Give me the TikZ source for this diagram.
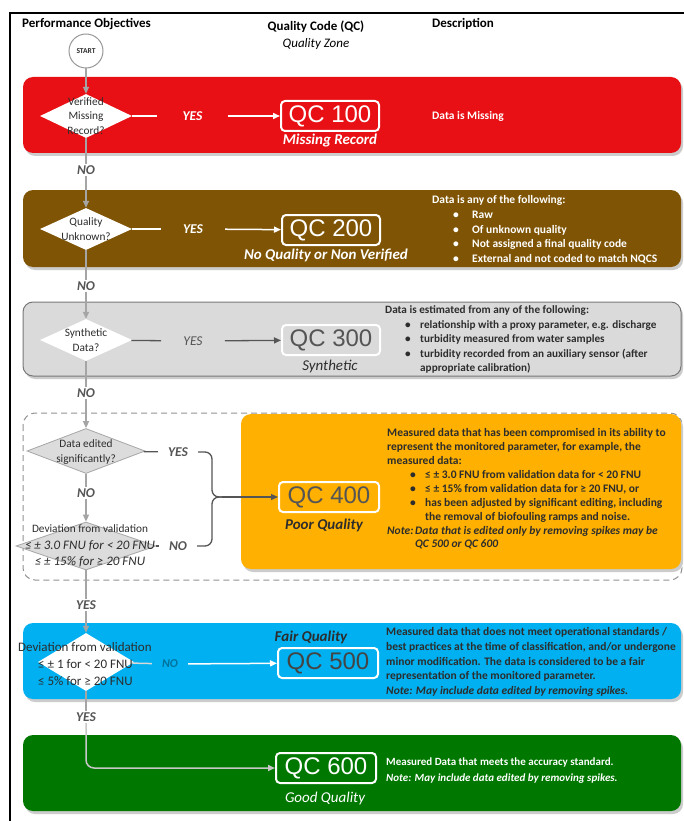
\documentclass[tikz,border=0pt]{standalone}
\usepackage{fontspec}
\setmainfont{Carlito}
\newfontfamily\qcfam{Liberation Sans}
\usetikzlibrary{shapes.geometric,arrows.meta}
\definecolor{cRed}{RGB}{232,16,20}
\definecolor{cBrown}{RGB}{127,84,4}
\definecolor{cGrayBand}{RGB}{218,218,218}
\definecolor{cGrayEdge}{RGB}{120,120,120}
\definecolor{cOrange}{RGB}{255,176,0}
\definecolor{cBlue}{RGB}{0,176,240}
\definecolor{cGreen}{RGB}{0,120,0}
\definecolor{cLine}{RGB}{165,165,165}
\definecolor{cDark}{RGB}{85,85,85}
\definecolor{cText}{RGB}{45,45,45}
\definecolor{cDiaGray}{RGB}{220,220,220}
\newcommand\bul[2]{\hspace*{#1}\makebox[#2][l]{•}}
\begin{document}
\begin{tikzpicture}[x=1pt,y=-1pt,
  hdr/.style={font=\bfseries\fontsize{13}{15}\selectfont, text=black, inner sep=0pt},
  band/.style={rounded corners=10pt},
  shadow/.style={fill=black!20, rounded corners=10pt},
  qcbox/.style={draw=white, line width=2pt, rounded corners=4pt, minimum width=98pt, minimum height=30pt, inner sep=0pt, font=\qcfam\fontsize{24}{24}\selectfont},
  sub/.style={font=\bfseries\itshape\fontsize{15}{15}\selectfont, inner sep=0pt},
  dia/.style={diamond, inner sep=0pt},
  dtxt/.style={align=center, inner sep=0pt, text=cText, font=\fontsize{11.3}{14.5}\selectfont},
  conn/.style={draw=cLine, line width=1.5pt},
  tip/.style={-{Triangle[length=7pt,width=6pt]}},
  vlab/.style={font=\bfseries\itshape\fontsize{13.5}{14}\selectfont, text=cDark, fill=white, inner sep=1.5pt},
  hlab/.style={font=\bfseries\itshape\fontsize{13.5}{14}\selectfont, inner ysep=0pt},
  desc/.style={align=left, inner sep=0pt, anchor=north west, font=\bfseries\fontsize{11.5}{14.7}\selectfont},
  wline/.style={draw=white, line width=1.5pt},
  dline/.style={draw=cDark, line width=1.3pt},
]
\useasboundingbox (0,0) rectangle (684,821);
\fill[white] (0,0) rectangle (684,821);
% frame
\draw[line width=2.5pt] (10,821) -- (10,13) -- (684,13);
% headers
\node[hdr, anchor=west] (hPO) at (22,24) {Performance Objectives};
\node[hdr] (hQC) at (316,27) {Quality Code (QC)};
\node[inner sep=0pt, font=\itshape\fontsize{13}{15}\selectfont] (hQZ) at (316,44) {Quality Zone};
\node[hdr, anchor=west] (hDe) at (432,24) {Description};
% dashed region
\draw[cGrayEdge!80, line width=1pt, dash pattern=on 6pt off 4pt, rounded corners=12pt] (23,413) rectangle (682,580);
% bands
\fill[shadow] (25,80) rectangle (683,156);
\fill[cRed, band] (23,77) rectangle (681,153);
\fill[shadow] (25,193) rectangle (683,270);
\fill[cBrown, band] (23,190) rectangle (681,267);
\fill[shadow] (25,305) rectangle (683,379);
\filldraw[fill=cGrayBand, draw=cGrayEdge, line width=1pt, band] (23,302) rectangle (681,376);
\fill[shadow] (243,417) rectangle (683,572);
\fill[cOrange, band] (241,414) rectangle (681,569);
\fill[shadow] (25,626) rectangle (683,702);
\fill[cBlue, band] (23,623) rectangle (681,699);
\fill[shadow] (25,738) rectangle (683,814);
\fill[cGreen, band] (23,735) rectangle (681,811);
% start
\node[circle, draw=black!40, line width=1pt, fill=white, minimum size=34pt, inner sep=0pt, font=\bfseries\fontsize{7.5}{8}\selectfont, text=cText] (start) at (86,51) {START};
% diamonds
\node[dia, fill=white, minimum width=92pt, minimum height=44pt] (d1) at (86,116) {};
\node[dtxt] (d1t) at (86,116) {Verified\\Missing\\Record?};
\node[dia, fill=white, minimum width=92pt, minimum height=42pt] (d2) at (86,229) {};
\node[dtxt] (d2t) at (86,229) {Quality\\Unknown?};
\node[dia, fill=white, minimum width=92pt, minimum height=42pt] (d3) at (86,340) {};
\node[dtxt] (d3t) at (86,340) {Synthetic\\Data?};
\node[dia, fill=cDiaGray, draw=black!35, line width=0.8pt, minimum width=118pt, minimum height=45pt] (d4) at (86,451) {};
\node[dtxt] (d4t) at (86,452) {Data edited\\significantly?};
\node[dia, fill=cDiaGray, draw=black!35, line width=0.8pt, minimum width=140pt, minimum height=48pt] (d5) at (86,546) {};
\node[dtxt, font=\itshape\fontsize{13}{16.5}\selectfont] (d5t) at (90,546) {{\upshape\fontsize{11.3}{16.5}\selectfont Deviation from validation}\\≤ ± 3.0 FNU for < 20 FNU\\≤ ± 15\% for ≥ 20 FNU};
\node[dia, fill=white, minimum width=96pt, minimum height=58pt] (d6) at (86,662) {};
\node[dtxt, align=left, font=\fontsize{13}{17}\selectfont, anchor=west] (d6t) at (18,664) {Deviation from validation\\\hspace*{20pt}≤ ± 1 for < 20 FNU\\\hspace*{20pt}≤ 5\% for ≥ 20 FNU};
% vertical labels
\node[vlab] (no1) at (86,170) {NO};
\node[vlab] (no2) at (86,286) {NO};
\node[vlab] (no3) at (86,393) {NO};
\node[vlab] (no4) at (86,493) {NO};
\node[vlab] (yes5) at (86,605) {YES};
\node[vlab] (yes6) at (86,717) {YES};
% row 1
\node[hlab, text=white, inner xsep=25pt] (y1) at (192.5,116) {YES};
\node[qcbox, text=white] (qc1) at (330,116) {QC 100};
\node[sub, text=white] (s1) at (330,141) {Missing Record};
\node[desc, text=white, anchor=west] (t1) at (432,116) {Data is Missing};
% row 2
\node[hlab, text=white, inner xsep=22pt] (y2) at (193,229) {YES};
\node[qcbox, text=white] (qc2) at (331,230) {QC 200};
\node[sub, text=white] (s2) at (326,255) {No Quality or Non Verified};
\node[desc, text=white] (t2) at (432,195.5) {Data is any of the following:\\\bul{21pt}{19pt}Raw\\\bul{21pt}{19pt}Of unknown quality\\\bul{21pt}{19pt}Not assigned a final quality code\\\bul{21pt}{19pt}External and not coded to match NQCS};
% row 3
\node[hlab, text=cDark, font=\itshape\fontsize{13.5}{14}\selectfont, inner xsep=22pt] (y3) at (193,341) {YES};
\node[qcbox, text=cDark, fill=cGrayBand] (qc3) at (331,340) {QC 300};
\node[sub, text=cText, font=\itshape\fontsize{15}{15}\selectfont] (s3) at (330,366) {Synthetic};
\node[desc, text=cText, font=\bfseries\fontsize{11.2}{14.5}\selectfont] (t3) at (385,305.5) {Data is estimated from any of the following:\\\bul{20pt}{15pt}relationship with a proxy parameter, e.g. discharge\\\bul{20pt}{15pt}turbidity measured from water samples\\\bul{20pt}{15pt}turbidity recorded from an auxiliary sensor (after\\\hspace*{35pt}appropriate calibration)};
% row 4
\node[hlab, text=cDark, inner xsep=10pt] (y4) at (178,452) {YES};
\node[hlab, text=cDark, inner xsep=10pt] (n5) at (178,546) {NO};
\coordinate (bk) at (212,497);
\coordinate (br) at (222,497);
\node[qcbox, text=cDark, fill=cOrange, minimum width=100pt] (qc4) at (329,497) {QC 400};
\node[sub, text=cText] (s4) at (324,525) {Poor Quality};
\node[desc, text=cText, font=\bfseries\fontsize{11.5}{13.9}\selectfont] (t4) at (387,428.5) {Measured data that has been compromised in its ability to\\represent the monitored parameter, for example, the\\measured data:\\\bul{23pt}{15pt}≤ ± 3.0 FNU from validation data for < 20 FNU\\\bul{23pt}{15pt}≤ ± 15\% from validation data for ≥ 20 FNU, or\\\bul{23pt}{15pt}has been adjusted by significant editing, including\\\hspace*{38pt}the removal of biofouling ramps and noise.\\\textit{\makebox[28pt][l]{Note:}Data that is edited only by removing spikes may be}\\\hspace*{28pt}\textit{QC 500 or QC 600}};
% row 5
\node[hlab, text=black!35!cBlue, font=\bfseries\itshape\fontsize{12}{13}\selectfont, inner xsep=10pt] (n6) at (170,664) {NO};
\node[qcbox, text=cDark!80!black, fill=cBlue, minimum width=100pt] (qc5) at (328,663) {QC 500};
\node[sub, text=cText] (s5) at (311,637) {Fair Quality};
\node[desc, text=cText] (t5) at (386,627.5) {Measured data that does not meet operational standards /\\best practices at the time of classification, and/or undergone\\minor modification. The data is considered to be a fair\\representation of the monitored parameter.\\\textit{Note: May include data edited by removing spikes.}};
% row 6
\node[qcbox, text=white, minimum width=100pt] (qc6) at (326,768) {QC 600};
\node[sub, text=white, font=\itshape\fontsize{15}{15}\selectfont] (s6) at (325,798) {Good Quality};
\node[desc, text=white, font=\bfseries\fontsize{11}{16}\selectfont] (t6) at (386,757.5) {Measured Data that meets the accuracy standard.\\\textit{Note: May include data edited by removing spikes.}};
% vertical connectors
\draw[conn,tip] (start) -- (d1);
\draw[conn] (d1) -- (no1);
\draw[conn,tip] (no1) -- (d2);
\draw[conn] (d2) -- (no2);
\draw[conn,tip] (no2) -- (d3);
\draw[conn] (d3) -- (no3);
\draw[conn,tip] (no3) -- (d4);
\draw[conn] (d4) -- (no4);
\draw[conn,tip] (no4) -- (d5);
\draw[conn] (d5) -- (yes5);
\draw[conn,tip] (yes5) -- (d6);
\draw[conn] (d6) -- (yes6);
\draw[conn,draw=black!22,tip,rounded corners=8pt] (yes6) |- (qc6);
% horizontal connectors
\draw[wline] (d1) -- (y1);
\draw[wline,tip] (y1) -- (qc1);
\draw[wline] (d2) -- (y2);
\draw[wline,tip] (y2) -- (qc2);
\draw[dline] (d3) -- (y3);
\draw[dline,tip] (y3) -- (qc3);
\draw[dline] (d4) -- (y4);
\draw[dline] (d5) -- (n5);
\draw[dline,rounded corners=7pt] (y4.east) -| (bk) -- (br);
\draw[dline,rounded corners=7pt] (n5.east) -| (bk) -- (br);
\draw[dline,tip] (br) -- (qc4);
\draw[wline,draw=white!85!black] (d6) -- (n6);
\draw[wline,tip] (n6) -- (qc5);
\end{tikzpicture}
\end{document}
